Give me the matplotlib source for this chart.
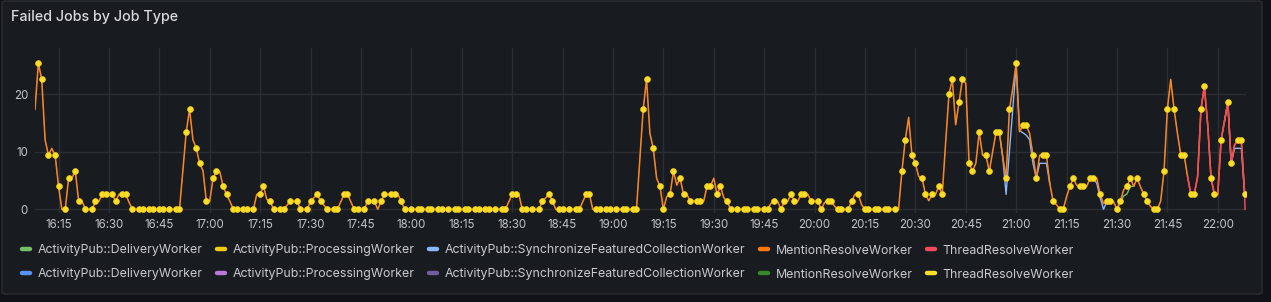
import matplotlib.pyplot as plt
from matplotlib.patches import FancyBboxPatch
from matplotlib.lines import Line2D

plt.rcParams['font.family'] = ['Inter', 'DejaVu Sans']

# ---------------- data (minutes after 16:00) ----------------
t_line = [8, 9, 10, 11, 12, 13, 14, 15, 16, 17, 18, 19, 20, 21, 22, 23, 25, 26, 27, 28,
          29, 30, 31, 32, 33, 34, 35, 36, 37, 39, 40, 42, 43, 45, 46, 48, 50, 51, 53, 54,
          55, 56, 57, 58, 59, 60, 61, 62, 63, 64, 65, 66, 67, 68, 70, 71, 73, 74, 75, 76,
          77, 78, 79, 81, 82, 84, 86, 87, 89, 90, 91, 92, 93, 94, 95, 97, 98, 100, 101, 102,
          103, 104, 106, 107, 108, 109, 110, 111, 112, 114, 115, 116, 117, 118, 120, 122, 123, 125, 126, 128,
          129, 131, 133, 134, 136, 137, 139, 140, 142, 143, 145, 147, 148, 150, 151, 152, 153, 154, 156, 158,
          159, 160, 161, 162, 163, 164, 165, 167, 169, 170, 172, 173, 174, 175, 176, 178, 179, 181, 183, 184,
          186, 187, 189, 190, 191, 192, 193, 194, 195, 196, 197, 198, 199, 200, 201, 202, 203, 204, 205, 206,
          207, 208, 209, 210, 211, 212, 213, 214, 215, 217, 219, 220, 222, 223, 225, 226, 227, 228, 229, 230,
          231, 232, 233, 234, 235, 236, 237, 238, 239, 240, 241, 242, 243, 244, 245, 246, 247, 248, 250, 251,
          252, 253, 254, 255, 256, 258, 259, 261, 262, 264, 265, 266, 267, 268, 269, 270, 271, 272, 273, 274,
          275, 276, 277, 278, 279, 280, 281, 282, 283, 284, 285, 286, 287, 288, 289, 290, 291, 292, 293, 294,
          295, 296, 297, 298, 299, 300, 301, 302, 303, 304, 305, 306, 307, 308, 309, 310, 311, 312, 313, 314,
          315, 316, 317, 318, 319, 320, 321, 322, 323, 324, 325, 326, 327, 328, 329, 330, 331, 332, 333, 334,
          335, 336, 337, 338, 339, 340, 341, 342, 343, 344, 345, 346, 347, 348, 349, 350, 351, 352, 353, 354,
          355, 356, 357, 358, 359, 360, 361, 362, 363, 364, 365, 366, 367, 368]
v_line = [17.4, 25.4, 22.6, 12.1, 9.4, 10.6, 9.4, 4.0, 0, 0, 5.4, 5.5, 6.6, 1.4, 1.4, 0, 0, 1.4, 1.4, 2.6,
          2.6, 2.6, 2.6, 1.4, 2.6, 2.6, 2.6, 1.2, 0, 0, 0, 0, 0, 0, 0, 0, 0, 0, 13.4, 17.4,
          12.1, 10.6, 8.0, 6.7, 1.4, 1.4, 5.4, 6.6, 6.5, 4.0, 2.6, 1.4, 0, 0, 0, 0, 0, 2.6, 2.6, 4.0,
          1.7, 1.4, 0, 0, 0, 1.4, 1.4, 0, 0, 1.4, 2.0, 2.6, 1.4, 0.7, 0, 0, 0, 2.6, 2.6, 1.3,
          0, 0, 0, 1.4, 1.4, 1.4, 0, 1.4, 2.6, 2.6, 2.6, 2.6, 1.4, 0, 0, 0, 0, 0, 0, 0,
          0, 0, 0, 0, 0, 0, 0, 0, 0, 0, 0, 0, 0, 2.6, 2.6, 2.6, 0, 0, 0, 0,
          1.4, 2.0, 2.6, 1.4, 0, 0, 0, 0, 0, 0, 2.6, 2.6, 0, 0, 0, 0, 0, 0, 0, 0,
          0, 0, 17.4, 22.6, 13.2, 10.6, 5.4, 4.0, 0, 2.2, 2.6, 6.6, 4.2, 5.4, 2.6, 2.6, 1.4, 1.4, 1.4, 1.4,
          1.4, 4.0, 4.0, 5.4, 2.6, 4.0, 2.0, 1.4, 0, 0, 0, 0, 0, 0, 0, 0, 1.0, 1.4, 1.4, 0,
          1.4, 1.4, 2.6, 1.4, 1.4, 2.6, 2.6, 2.6, 1.4, 1.4, 1.4, 0, 1.2, 1.4, 1.4, 0.5, 0, 0, 0, 1.4,
          2.6, 2.6, 0.8, 0, 0, 0, 0, 0, 0, 0, 0, 6.6, 12.1, 16.0, 9.4, 8.0, 5.7, 5.4, 2.6, 1.5,
          2.6, 2.6, 4.0, 2.6, 11.5, 20.0, 22.6, 14.7, 18.6, 22.6, 21.9, 8.0, 6.6, 8.0, 13.4, 9.4, 9.4, 6.6, 10.0, 13.4,
          13.4, 9.1, 5.4, 17.4, 21.0, 25.4, 13.5, 14.6, 14.6, 13.2, 9.4, 5.4, 9.4, 9.4, 9.4, 4.5, 1.4, 0.8, 0, 0,
          2.2, 4.0, 5.4, 4.2, 4.0, 4.0, 4.0, 5.4, 5.4, 5.4, 2.6, 1.0, 1.4, 1.4, 1.3, 0, 1.4, 3.4, 4.0, 5.4,
          4.0, 5.4, 3.9, 2.6, 1.4, 0.5, 0, 0, 1.4, 6.6, 17.4, 22.6, 17.4, 13.2, 9.4, 9.4, 5.7, 2.6, 2.6, 5.7,
          17.4, 21.4, 14.7, 5.4, 2.6, 2.6, 12.1, 15.3, 18.6, 8.0, 11.2, 12.0, 12.0, 2.6]

# samples that carry a point marker
t_pts = [9, 10, 12, 14, 15, 17, 18, 20, 21, 23, 25, 26, 28, 29, 31, 32, 34, 35, 37, 39,
         40, 42, 43, 45, 46, 48, 50, 51, 53, 54, 56, 57, 59, 61, 62, 64, 65, 67, 68, 70,
         71, 73, 75, 76, 78, 79, 81, 82, 84, 86, 87, 89, 90, 92, 93, 95, 97, 98, 100, 101,
         103, 104, 106, 107, 109, 111, 112, 114, 115, 117, 118, 120, 122, 123, 125, 126, 128, 129, 131, 133,
         134, 136, 137, 139, 140, 142, 143, 145, 147, 148, 150, 151, 153, 154, 156, 158, 159, 161, 162, 164,
         165, 167, 169, 170, 172, 173, 175, 176, 178, 179, 181, 183, 184, 186, 187, 189, 190, 192, 194, 195,
         197, 198, 200, 201, 203, 205, 206, 208, 209, 211, 212, 214, 215, 217, 219, 220, 222, 223, 225, 226,
         228, 230, 231, 233, 234, 236, 237, 239, 241, 242, 244, 245, 247, 248, 250, 251, 253, 255, 256, 258,
         259, 261, 262, 264, 266, 267, 269, 270, 272, 273, 275, 277, 278, 280, 281, 283, 284, 286, 287, 289,
         291, 292, 294, 295, 297, 298, 300, 302, 303, 305, 306, 308, 309, 311, 313, 314, 316, 317, 319, 320,
         322, 323, 325, 327, 328, 330, 331, 333, 334, 336, 338, 339, 341, 342, 344, 345, 347, 349, 350, 352,
         353, 355, 356, 358, 359, 361, 363, 364, 366, 367, 368]

# SynchronizeFeaturedCollectionWorker, where it separates from the rest
t_sync = [295, 296, 297, 300, 301, 303, 304, 305, 306, 307, 309, 310, None,
          322, 323, 324, 325, 326, 327, 328, None,
          362, 363, 364, 365, 367, 368]
v_sync = [13.4, 9.1, 2.6, 25.0, 13.7, 12.9, 12.1, 8.0, 5.4, 8.0, 8.0, 4.5, None,
          5.4, 5.4, 4.5, 2.0, 0, 1.4, 1.4, None,
          15.3, 18.6, 8.0, 10.6, 10.6, 2.6]

# MentionResolveWorker (green)
t_mention = [330, 331, 332, 333, 334, 335]
v_mention = [0, 1.4, 2.3, 2.7, 4.0, 4.0]

# ThreadResolveWorker (red)
t_thread = [351, 352, 353, 354, 355, 356, 357, 358, 359, 360, 361, 362, 363, 364, 365, 366, 367, 368, 368.1]
v_thread = [5.7, 2.6, 2.6, 5.7, 17.4, 21.4, 14.7, 5.4, 2.6, 2.6, 12.1, 15.3, 18.6, 8.0, 11.2, 12.0, 12.0, 2.6, 0]

tick_labels = ["16:15", "16:30", "16:45", "17:00", "17:15", "17:30", "17:45", "18:00",
               "18:15", "18:30", "18:45", "19:00", "19:15", "19:30", "19:45", "20:00",
               "20:15", "20:30", "20:45", "21:00", "21:15", "21:30", "21:45", "22:00"]
y_ticks = [0, 10, 20]

legend_names = ["ActivityPub::DeliveryWorker", "ActivityPub::ProcessingWorker",
                "ActivityPub::SynchronizeFeaturedCollectionWorker", "MentionResolveWorker",
                "ThreadResolveWorker"]
legend_row1 = ["#73bf69", "#f2cc0c", "#8ab8ff", "#ff780a", "#f2495c"]
legend_row2 = ["#5794f2", "#b877d9", "#705da0", "#37872d", "#fade2a"]

# ---------------- figure ----------------
W, H = 1271, 302
fig = plt.figure(figsize=(W / 100, H / 100), dpi=100)
fig.patch.set_facecolor("#111217")

panel = FancyBboxPatch((2 / W, 1 - 294 / H), 1260 / W, 293 / H,
                       boxstyle="round,pad=0,rounding_size=0.004",
                       transform=fig.transFigure, facecolor="#181b1f",
                       edgecolor="#2a2d33", linewidth=1, zorder=0)
fig.add_artist(panel)

fig.text(11 / W, 1 - 17 / H, "Failed Jobs by Job Type", color="#d8d9e0",
         fontsize=10.3, fontweight="medium", va="center", ha="left")

ax = fig.add_axes([35 / W, 1 - 213 / H, 1211 / W, 165 / H])
ax.set_facecolor("none")
for s in ax.spines.values():
    s.set_visible(False)

ax.plot(t_sync, v_sync, color="#8ab8ff", lw=1.0, zorder=2)
ax.plot(t_mention, v_mention, color="#73bf69", lw=1.0, zorder=2)
ax.plot(t_line, v_line, color="#ff780a", lw=1.15, zorder=3)
ax.plot(t_line, v_line, color="#c9a57e", lw=0.5, alpha=0.6, zorder=3)
ax.plot(t_thread, v_thread, color="#f2495c", lw=1.1, zorder=4)

v_pts = [v_line[t_line.index(t)] for t in t_pts]
ax.plot(t_pts, v_pts, ls="none", marker="o", ms=4.2, mfc="#fade2a",
        mec="#f2cc0c", mew=0.5, zorder=5)

tick_pos = [(int(s[:2]) - 16) * 60 + int(s[3:]) for s in tick_labels]
ax.set_xticks(tick_pos)
ax.set_xticklabels(tick_labels)
ax.set_yticks(y_ticks)
ax.set_xlim(8.0, 368.4)
ax.set_ylim(-0.64, 28.05)
ax.grid(True, color="#2b2e34", lw=1)
ax.set_axisbelow(True)
ax.tick_params(length=0, colors="#c2c4cb", labelsize=8.3)
ax.tick_params(axis="x", pad=4)
ax.tick_params(axis="y", pad=5)

# legend laid out like a flowing row of entries
fig.canvas.draw()
r = fig.canvas.get_renderer()
for row_y, colors in ((250.5, legend_row1), (274.5, legend_row2)):
    x = 21
    for name, col in zip(legend_names, colors):
        fig.add_artist(Line2D([(x + 1) / W, (x + 9) / W], [1 - (row_y - 2) / H] * 2,
                              transform=fig.transFigure, color=col, lw=3.2,
                              solid_capstyle="round"))
        t = fig.text((x + 17) / W, 1 - row_y / H, name, color="#c9cad1",
                     fontsize=8.9, va="center", ha="left")
        x = x + 17 + t.get_window_extent(renderer=r).width + 13

fig.savefig("out.png", dpi=100, facecolor=fig.get_facecolor())
